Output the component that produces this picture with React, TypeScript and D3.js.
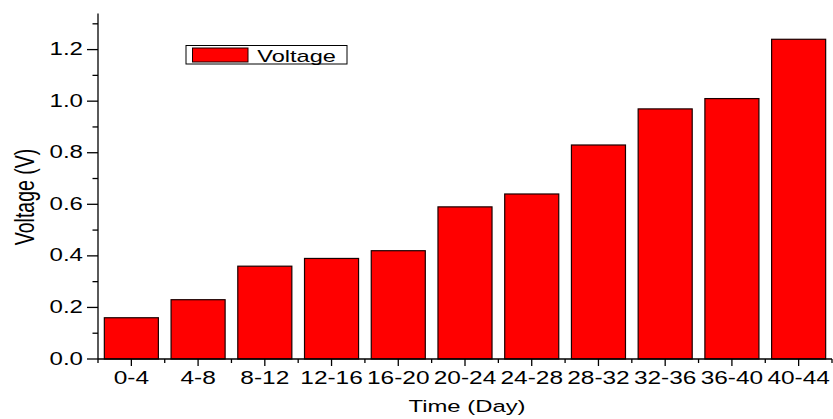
import React from "react";
import * as d3 from "d3";

const categories = ["0-4", "4-8", "8-12", "12-16", "16-20", "20-24", "24-28", "28-32", "32-36", "36-40", "40-44"];
const voltage = [0.16, 0.23, 0.36, 0.39, 0.42, 0.59, 0.64, 0.83, 0.97, 1.01, 1.24];
const yMajorTicks = [0, 0.2, 0.4, 0.6, 0.8, 1.0, 1.2];
const yMinorTicks = [0.1, 0.3, 0.5, 0.7, 0.9, 1.1, 1.3];
const seriesName = "Voltage";
const xTitle = "Time (Day)";
const yTitle = "Voltage (V)";

const W = 833;
const H = 419;
const FONT = "'Liberation Sans', Arial, Helvetica, sans-serif";

export default function App() {
  const left = 98;
  const right = 832;
  const bottom = 359;
  const top = 13.5;

  const x = d3
    .scaleBand<string>()
    .domain(categories)
    .range([left, right])
    .paddingInner(0.19)
    .paddingOuter(0.095);
  const y = d3.scaleLinear().domain([0, 1.34]).range([bottom, top]);
  const step = x.step();
  const boundaries = d3.range(categories.length + 1).map((i) => left + i * step);

  return (
    <svg
      width={W}
      height={H}
      style={{ position: "absolute", left: 0, top: 0, background: "#fff" }}
      fontFamily={FONT}
    >
      <rect x={0} y={0} width={W} height={H} fill="#fff" />
      {categories.map((c, i) => (
        <rect
          key={c}
          x={x(c)!}
          y={y(voltage[i])}
          width={x.bandwidth()}
          height={y(0) - y(voltage[i])}
          fill="#ff0000"
          stroke="#1a0000"
          strokeWidth={1.2}
        />
      ))}
      <line x1={left} x2={left} y1={top} y2={bottom} stroke="#000" strokeWidth={1.3} />
      {yMajorTicks.map((t) => (
        <g key={"ym" + t}>
          <line x1={left - 11} x2={left} y1={y(t)} y2={y(t)} stroke="#000" strokeWidth={1.3} />
          <text
            transform={`translate(83,${y(t)}) scale(1.3,1)`}
            dy="0.3em"
            textAnchor="end"
            fontSize={18.5}
            fill="#000"
          >
            {t.toFixed(1)}
          </text>
        </g>
      ))}
      {yMinorTicks.map((t) => (
        <line key={"yn" + t} x1={left - 5.5} x2={left} y1={y(t)} y2={y(t)} stroke="#000" strokeWidth={1.3} />
      ))}
      <line x1={left} x2={right} y1={bottom} y2={bottom} stroke="#000" strokeWidth={1.3} />
      {boundaries.map((b, i) => (
        <line key={"xb" + i} x1={b} x2={b} y1={bottom} y2={bottom + 4} stroke="#000" strokeWidth={1.3} />
      ))}
      {categories.map((c) => {
        const cx = x(c)! + x.bandwidth() / 2;
        return (
          <g key={"xt" + c}>
            <line x1={cx} x2={cx} y1={bottom} y2={bottom + 7} stroke="#000" strokeWidth={1.3} />
            <text
              transform={`translate(${cx},383.5) scale(1.3,1)`}
              textAnchor="middle"
              fontSize={18.8}
              fill="#000"
            >
              {c}
            </text>
          </g>
        );
      })}
      <text
        transform={`translate(467,412.3) scale(1.38,1)`}
        textAnchor="middle"
        fontSize={17.3}
        fill="#000"
      >
        {xTitle}
      </text>
      <text
        transform={`translate(33.5,197) scale(1.42,1) rotate(-90)`}
        textAnchor="middle"
        fontSize={19.5}
        fill="#000"
      >
        {yTitle}
      </text>
      <rect x={186} y={45.5} width={161} height={18.5} fill="#fff" stroke="#000" strokeWidth={1} />
      <rect x={192.5} y={48} width={55.5} height={14} fill="#ff0000" stroke="#1a0000" strokeWidth={1} />
      <text
        transform={`translate(257.3,62) scale(1.42,1)`}
        textAnchor="start"
        fontSize={16.6}
        fill="#000"
      >
        {seriesName}
      </text>
    </svg>
  );
}
